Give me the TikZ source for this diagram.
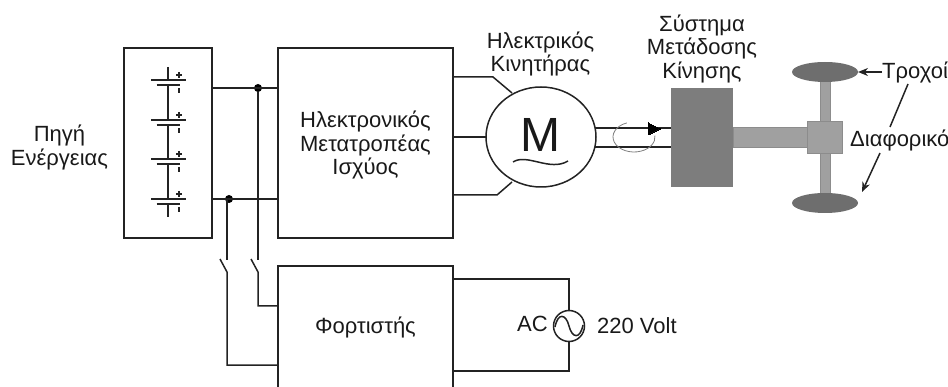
\documentclass[tikz,border=0pt]{standalone}
\usepackage{fontspec}
\setmainfont{Liberation Sans}
\usepackage{xcolor}
\usetikzlibrary{shapes.geometric, arrows.meta, positioning, calc}
\definecolor{wirecol}{RGB}{35, 35, 35}
\definecolor{gearcol}{RGB}{125, 125, 125}
\definecolor{shaftcol}{RGB}{160, 160, 160}
\definecolor{wheelcol}{RGB}{110, 110, 110}

\begin{document}
\begin{tikzpicture}[
    x=1pt, y=-1pt,
    every node/.style={text=black!90},
    box/.style={rectangle, draw=wirecol, line width=1.6pt, outer sep=0pt, inner sep=0pt},
    solid/.style={rectangle, outer sep=0pt, inner sep=0pt, draw=black!45, line width=0.5pt},
    wheel/.style={ellipse, fill=wheelcol, outer sep=0pt, inner sep=0pt, minimum width=66pt, minimum height=20pt},
    lbl/.style={align=center, font=\fontsize{22}{23.5}\selectfont, inner sep=0pt},
    wire/.style={draw=wirecol, line width=1.5pt},
    dot/.style={circle, fill=black, inner sep=0pt, minimum size=8pt},
    arrow/.style={wire, -{Stealth[length=10pt, width=8pt]}}
]
    \useasboundingbox (0,0) rectangle (948,387);

    % Battery pack
    \node[box, minimum width=88pt, minimum height=190pt] (battery) at (168, 143) {};
    \node[lbl] (source) at (59.5, 147.5) {Πηγή\\Ενέργειας};

    \foreach \cy in {80, 120, 159, 199} {
        \draw[wire] (151, \cy) -- (186, \cy);
        \draw[wire] (156.5, \cy+5) -- (180, \cy+5);
        \draw[wire] (176, \cy-5) -- (182, \cy-5);
        \draw[wire] (179, \cy-8) -- (179, \cy-2);
        \draw[wire] (179, \cy+8) -- (179, \cy+13);
    }
    \draw[wire] (168, 67) -- (168, 80);
    \draw[wire] (168, 85) -- (168, 120);
    \draw[wire] (168, 125) -- (168, 159);
    \draw[wire] (168, 164) -- (168, 199);
    \draw[wire] (168, 204) -- (168, 217);

    % Converter
    \node[box, minimum width=175pt, minimum height=190pt] (converter) at (365.5, 143) {};
    \node[lbl] (convtext) at (365.5, 145) {Ηλεκτρονικός\\Μετατροπέας\\Ισχύος};

    % Charger
    \node[box, minimum width=175pt, minimum height=130pt] (charger) at (365.5, 331) {};
    \node[lbl] (chargetext) at (365.5, 327) {Φορτιστής};

    % Bus
    \node[dot] (jtop) at (258, 88) {};
    \node[dot] (jbot) at (229, 199) {};
    \draw[wire] (jtop -| battery.east) -- (jtop -| converter.west);
    \draw[wire] (jbot -| battery.east) -- (jbot -| converter.west);

    % Switches
    \coordinate (swa) at (258, 260);
    \coordinate (swb) at (258, 272);
    \coordinate (swc) at (227, 260);
    \coordinate (swd) at (227, 272);
    \coordinate (ina) at (258, 306);
    \coordinate (inb) at (227, 365);
    \draw[wire] (jtop) -- (swa);
    \draw[wire] (251, 259) -- (swb) -- (ina) -- (ina -| charger.west);
    \draw[wire] (jbot -| swc) -- (swc);
    \draw[wire] (220, 259) -- (swd) -- (inb) -- (inb -| charger.west);

    % Motor
    \node[ellipse, draw=wirecol, line width=1.5pt, minimum width=110pt, minimum height=100pt, inner sep=0pt, outer sep=0pt] (motor) at (541, 137) {};
    \node[inner sep=0pt, font=\fontsize{48}{48}\selectfont] (mlabel) at (540.5, 135) {M};
    \draw[wire] (513, 162) .. controls (527, 153) and (550, 172) .. (568, 161);
    \node[lbl] (motortext) at (540.5, 54) {Ηλεκτρικός\\Κινητήρας};

    \draw[wire] (converter.east |- 0, 77) -- (493, 77) -- (512, 93);
    \draw[wire] (converter.east |- motor.west) -- (motor.west);
    \draw[wire] (converter.east |- 0, 195) -- (497, 195) -- (512, 182);

    % Transmission
    \node[solid, fill=gearcol, draw=none, minimum width=62pt, minimum height=99pt] (gearbox) at (702, 137.5) {};
    \node[lbl] (geartext) at (702, 48.5) {Σύστημα\\Μετάδοσης\\Κίνησης};
    \coordinate (shafta) at (595, 128);
    \coordinate (shaftb) at (595, 147);
    \draw[wire] (shafta) -- (shafta -| gearbox.west);
    \draw[wire] (shaftb) -- (shaftb -| gearbox.west);
    \draw[draw=black, line width=0pt, fill=black] (648, 123) -- (660, 129) -- (648, 135) -- cycle;
    \draw[gray, line width=0.8pt] (634, 137) ++(-110:21 and 15) arc (-110:-365:21 and 15);

    % Axle and wheels
    \node[solid, fill=shaftcol, minimum width=10pt, minimum height=122pt] (axle) at (825, 137.5) {};
    \node[wheel] (wheeltop) at (825, 72) {};
    \node[wheel] (wheelbot) at (825, 203) {};
    \node[solid, fill=shaftcol, minimum width=74pt, minimum height=20pt] (shaft) at (770, 137) {};
    \node[solid, fill=shaftcol, minimum width=35pt, minimum height=32pt] (diff) at (824.5, 137) {};

    % Labels on the right
    \node[lbl, anchor=west] (wheeltext) at (882, 72) {Τροχοί};
    \node[lbl, anchor=west] (difftext) at (850, 140) {Διαφορικό};
    \draw[arrow] (wheeltext.west) -- (wheeltop.east);
    \draw[wire] (908, 84) -- (890, 127);
    \draw[arrow] (880, 153) -- (862, 192);

    % AC supply
    \node[circle, draw=wirecol, line width=1.5pt, minimum size=31pt, inner sep=0pt, outer sep=0pt] (ac) at (569, 326) {};
    \draw[wire] (555, 327) .. controls (558, 312) and (566, 314) .. (569, 326) .. controls (572, 338) and (580, 340) .. (583, 325);
    \node[lbl, anchor=east] (actext) at (548, 324) {AC};
    \node[lbl, anchor=west] (volttext) at (597, 326) {220 Volt};
    \draw[wire] (charger.east |- 0, 279) -- (ac.north |- 0, 279) -- (ac.north);
    \draw[wire] (charger.east |- 0, 371) -- (ac.south |- 0, 371) -- (ac.south);

\end{tikzpicture}
\end{document}
